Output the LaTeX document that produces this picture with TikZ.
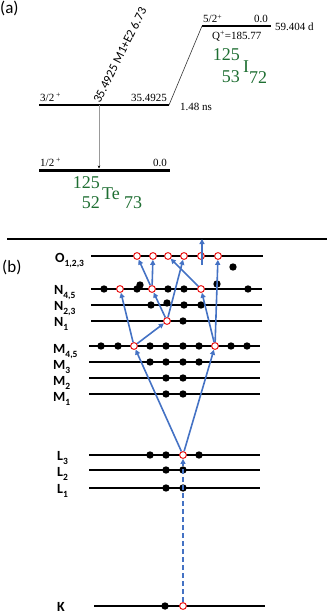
\documentclass[tikz,border=0pt]{standalone}
\usepackage{fontspec}
\setmainfont{Liberation Serif}
\newfontfamily\calib{Carlito}
\usetikzlibrary{arrows.meta}
\definecolor{nucgreen}{RGB}{30,110,50}
\definecolor{arrblue}{RGB}{68,114,196}
\definecolor{vacred}{RGB}{235,20,20}
\newcommand{\shlab}[2]{#1\raisebox{-4pt}{\fontsize{9.5}{10}\selectfont #2}}
\begin{document}
\begin{tikzpicture}[x=1pt,y=-1pt,
 lev/.style={line width=1.6pt},
 dot/.style={circle,fill=black,minimum size=7.4pt,inner sep=0pt},
 vac/.style={circle,draw=vacred,fill=white,line width=1pt,minimum size=6.8pt,inner sep=0pt},
 tr/.style={arrblue,line width=1.6pt,-{Triangle[length=5pt,width=5pt]}},
 shl/.style={font=\calib\bfseries\fontsize{14}{16}\selectfont,anchor=base west,inner sep=0pt},
 lbl/.style={font=\fontsize{11}{13}\selectfont,inner sep=0pt},
 nuc/.style={font=\fontsize{18}{21}\selectfont,text=nucgreen,inner sep=0pt},
 panel/.style={font=\calib\fontsize{17}{20}\selectfont,anchor=base west,inner sep=0pt},
]
\useasboundingbox (0,0) rectangle (327,613);

% ---------- (a) ----------
\node[panel] (pa) at (0,13) {(a)};
\coordinate (upL) at (202,26); \coordinate (upR) at (271,26);
\coordinate (midL) at (39,105); \coordinate (midR) at (169,105);
\coordinate (loL) at (39,170); \coordinate (loR) at (170,170);
\draw[line width=2.8pt] (upL) -- (upR);
\draw[line width=1.3pt] (midL) -- (midR);
\draw[line width=3pt] (loL) -- (loR);
\draw[line width=0.6pt,black!80] (midR) -- (upL);
\coordinate (gtop) at (99,105); \coordinate (gbot) at (99,168.5);
\draw[line width=1pt,black!40,-{Stealth[length=3pt,width=2.6pt,color=black]}] (gtop) -- (gbot);

\node[lbl,anchor=base west] (s52) at (203,23) {5/2\textsuperscript{+}};
\node[lbl,anchor=base east] (e00a) at (268,23) {0.0};
\node[lbl,anchor=west] (hl1) at (275,27) {59.404 d};
\node[lbl,anchor=west] (qv) at (212,36) {Q\textsuperscript{+}=185.77};
\node[lbl,anchor=base west] (s32) at (40,101) {3/2\,\textsuperscript{+}};
\node[lbl,anchor=base east] (e35) at (167,101) {35.4925};
\node[lbl,anchor=west] (hl2) at (180,107) {1.48 ns};
\node[lbl,anchor=base west] (s12) at (40,166) {1/2\,\textsuperscript{+}};
\node[lbl,anchor=base east] (e00b) at (167,166) {0.0};
\node[rotate=63.4,anchor=base west,inner sep=0pt,font=\calib\fontsize{12.5}{14}\selectfont] (gam) at (100,104) {35.4925 M1+E2 6.73};

\node[nuc,anchor=east] (iA) at (240,55) {125};
\node[nuc,anchor=east] (iZ) at (240,77) {53};
\node[nuc,anchor=west] (iS) at (243,67) {I};
\node[nuc,anchor=west] (iN) at (249,78) {72};
\node[nuc,anchor=east] (tA) at (100,183) {125};
\node[nuc,anchor=east] (tZ) at (100,203) {52};
\node[nuc,anchor=west] (tS) at (102,194) {Te};
\node[nuc,anchor=west] (tN) at (124,203) {73};

% separator
\coordinate (sepL) at (7,239); \coordinate (sepR) at (327,239);
\draw[line width=1.5pt] (sepL) -- (sepR);

% ---------- (b) ----------
\node[panel] (pb) at (2,272) {(b)};
\draw[lev] (91,256) -- (263,256);
\draw[lev] (91,289) -- (262,289);
\draw[lev] (91,305) -- (262,305);
\draw[lev] (91,321) -- (262,321);
\draw[lev] (89,346) -- (260,346);
\draw[lev] (89,362) -- (260,362);
\draw[lev] (89,378) -- (260,378);
\draw[lev] (89,394) -- (260,394);
\draw[lev] (89,455) -- (260,455);
\draw[lev] (89,470) -- (260,470);
\draw[lev] (89,488) -- (260,488);
\draw[lev] (94,606) -- (265,606);

\node[shl] (lO) at (55,262) {\shlab{O}{1,2,3}};
\node[shl] (lN45) at (54,294) {\shlab{N}{4,5}};
\node[shl] (lN23) at (54,310) {\shlab{N}{2,3}};
\node[shl] (lN1) at (54,326) {\shlab{N}{1}};
\node[shl] (lM45) at (53,353) {\shlab{M}{4,5}};
\node[shl] (lM3) at (53,369) {\shlab{M}{3}};
\node[shl] (lM2) at (53,385) {\shlab{M}{2}};
\node[shl] (lM1) at (53,401) {\shlab{M}{1}};
\node[shl] (lL3) at (57,460) {\shlab{L}{3}};
\node[shl] (lL2) at (57,476) {\shlab{L}{2}};
\node[shl] (lL1) at (57,493) {\shlab{L}{1}};
\node[shl] (lK) at (57,611) {K};

% filled electrons
\foreach \x/\y in {233/267,
  104/289, 137/289, 140/285, 168/289, 184/289, 217/284, 248/289,
  151/305, 167/303, 184/305, 201/305,
  183/321,
  101/346, 118/346, 150/346, 166/346, 183/346, 199/346, 231/346, 247/346,
  150/362, 166/362, 183/362, 199/362,
  166/378, 183/378, 166/394, 183/394,
  150/455, 166/455, 199/455,
  166/470, 183/470, 166/488, 183/488,
  165/606}
  \node[dot] at (\x,\y) {};

% vacancies
\node[vac] (o1) at (137,256) {};
\node[vac] (o2) at (153,256) {};
\node[vac] (o3) at (168,256) {};
\node[vac] (o4) at (184,256) {};
\node[vac] (o5) at (201,256) {};
\node[vac] (o6) at (218,256) {};
\node[vac] (na) at (120,289) {};
\node[vac] (nb) at (152,289) {};
\node[vac] (nc) at (201,289) {};
\node[vac] (n1) at (167,321) {};
\node[vac] (ma) at (134,346) {};
\node[vac] (mb) at (215,346) {};
\node[vac] (l3) at (183,455) {};
\node[vac] (kv) at (183,606) {};

% transitions
\draw[tr] (l3) -- (ma);
\draw[tr] (l3) -- (mb);
\draw[tr] (ma) -- (n1);
\draw[tr] (ma) -- (na);
\draw[tr] (n1) -- (nb);
\draw[tr] (n1) -- (o4);
\draw[tr] (nb) -- (o1);
\draw[tr] (nb) -- (o2);
\draw[tr] (nc) -- (o3);
\draw[tr] (mb) -- (nc);
\draw[tr] (mb) -- (o6);
\coordinate (eS) at (202,265); \coordinate (eE) at (202,239);
\draw[tr] (eS) -- (eE);
\draw[tr,dashed,dash pattern=on 5pt off 3pt] (kv) -- (l3);
\end{tikzpicture}
\end{document}
